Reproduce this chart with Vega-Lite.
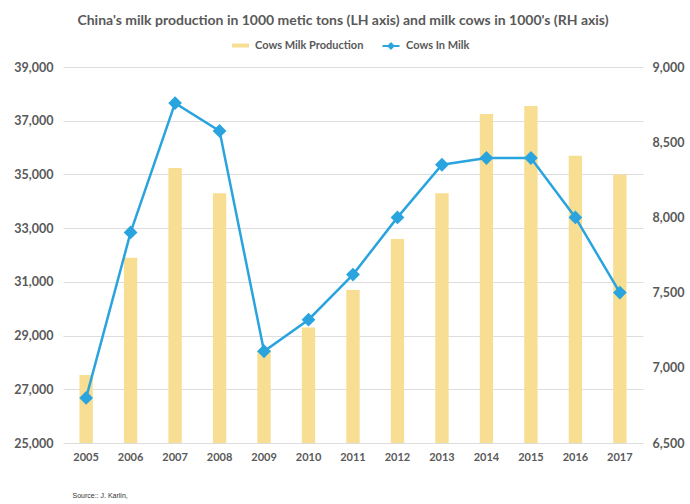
{
  "$schema": "https://vega.github.io/schema/vega-lite/v6.json",
  "width": 580,
  "height": 376,
  "autosize": {"type": "none"},
  "padding": {"left": 63, "top": 67, "right": 47, "bottom": 61},
  "background": "white",
  "title": {
    "text": "China's milk production in 1000 metic tons (LH axis) and milk cows in 1000's (RH axis)",
    "font": "Lato",
    "fontSize": 14,
    "fontWeight": "bold",
    "color": "#595959",
    "anchor": "middle",
    "offset": 12,
    "dx": -10
  },
  "config": {
    "view": {"stroke": null},
    "axis": {
      "labelFont": "Lato",
      "labelFontWeight": "bold",
      "labelColor": "#595959",
      "domain": false,
      "ticks": false
    },
    "legend": {
      "labelFont": "Lato",
      "labelFontWeight": "bold",
      "labelColor": "#595959"
    }
  },
  "data": {
    "values": [
      {"year": "2005", "milk": 27530, "cows": 6800},
      {"year": "2006", "milk": 31900, "cows": 7900},
      {"year": "2007", "milk": 35240, "cows": 8760},
      {"year": "2008", "milk": 34300, "cows": 8575},
      {"year": "2009", "milk": 28460, "cows": 7110},
      {"year": "2010", "milk": 29300, "cows": 7320},
      {"year": "2011", "milk": 30700, "cows": 7620},
      {"year": "2012", "milk": 32600, "cows": 8000},
      {"year": "2013", "milk": 34300, "cows": 8350},
      {"year": "2014", "milk": 37250, "cows": 8395},
      {"year": "2015", "milk": 37550, "cows": 8395},
      {"year": "2016", "milk": 35700, "cows": 8000},
      {"year": "2017", "milk": 35000, "cows": 7500}
    ]
  },
  "encoding": {
    "x": {
      "field": "year",
      "type": "ordinal",
      "scale": {"paddingInner": 0.7, "paddingOuter": 0.37},
      "axis": {
        "labelAngle": 0,
        "labelFontSize": 11,
        "labelPadding": 8,
        "grid": false,
        "title": "Source:: J. Karlin,",
        "titleFont": "Liberation Sans",
        "titleFontSize": 7,
        "titleFontWeight": "normal",
        "titleColor": "#333333",
        "titleAnchor": "start",
        "titleAlign": "left",
        "titleX": 9,
        "titleY": 48
      }
    }
  },
  "layer": [
    {
      "mark": {"type": "bar"},
      "encoding": {
        "y": {
          "field": "milk",
          "type": "quantitative",
          "scale": {"domain": [25000, 39000], "nice": false, "zero": false},
          "axis": {
            "values": [25000, 27000, 29000, 31000, 33000, 35000, 37000, 39000],
            "format": ",d",
            "title": null,
            "labelFontSize": 12.5,
            "labelPadding": 10,
            "grid": true,
            "gridColor": "#DDDDDD",
            "gridWidth": 1
          }
        },
        "y2": {"datum": 25000},
        "fill": {
          "datum": "Cows Milk Production",
          "scale": {"range": ["#F7DE92"]},
          "legend": {
            "orient": "none",
            "legendX": 172,
            "legendY": -27,
            "title": null,
            "labelFontSize": 11,
            "labelOffset": 9,
            "symbolSize": 100,
            "symbolType": "M-1.7,-0.4H1.7V0.4H-1.7Z",
            "symbolStrokeWidth": 0,
            "symbolOpacity": 1
          }
        }
      }
    },
    {
      "mark": {
        "type": "line",
        "strokeWidth": 2.5,
        "point": {"shape": "diamond", "size": 120, "filled": true, "opacity": 1, "fill": "#2AA4DE", "color": "#2AA4DE"}
      },
      "encoding": {
        "y": {
          "field": "cows",
          "type": "quantitative",
          "scale": {"domain": [6500, 9000], "nice": false, "zero": false},
          "axis": {
            "orient": "right",
            "values": [6500, 7000, 7500, 8000, 8500, 9000],
            "format": ",d",
            "title": null,
            "labelFontSize": 12.5,
            "labelPadding": 9,
            "grid": false
          }
        },
        "stroke": {
          "datum": "Cows In Milk",
          "scale": {"range": ["#2AA4DE"]},
          "legend": {
            "orient": "none",
            "legendX": 322,
            "legendY": -27,
            "title": null,
            "labelFontSize": 11,
            "labelOffset": 9,
            "symbolSize": 100,
            "symbolType": "M-1.7,0H1.7M0,-0.5L0.5,0L0,0.5L-0.5,0Z",
            "symbolFillColor": "#2AA4DE",
            "symbolStrokeWidth": 2,
            "symbolOpacity": 1
          }
        }
      }
    }
  ],
  "resolve": {"scale": {"y": "independent"}}
}
